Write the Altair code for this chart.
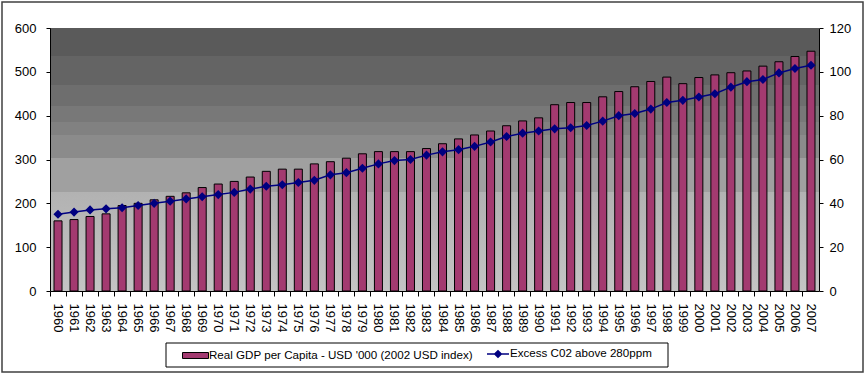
import altair as alt
import pandas as pd

years = [str(y) for y in range(1960, 2008)]
gdp = [160, 163, 170, 176, 195, 200, 208, 216, 224, 236, 244, 250, 260, 273, 278, 278,
       290, 295, 303, 313, 318, 318, 318, 325, 336, 347, 356, 365, 377, 388, 395, 425,
       430, 430, 443, 455, 466, 478, 488, 473, 487, 493, 498, 502, 513, 523, 535, 547]
co2 = [35, 36, 37, 37.5, 38, 39, 40, 41, 42, 43, 44, 45, 46.5, 47.8, 48.5, 49.5,
       50.5, 53, 54, 56, 58, 59.5, 60, 62, 63.5, 64.5, 66, 68, 70.5, 72, 73, 74,
       74.5, 75.5, 77.5, 80, 81, 83, 86, 87, 88.5, 90, 93, 95.5, 96.5, 99.5, 101.5, 103]

GDP_LABEL = "Real GDP per Capita - USD '000 (2002 USD index)"
CO2_LABEL = "Excess C02 above 280ppm"

df = pd.DataFrame({"year": years, "gdp": gdp, "co2": co2,
                   "s1": GDP_LABEL, "s2": CO2_LABEL})
one = pd.DataFrame({"a": [0]})

W, H = 769, 263
FONT = "Liberation Sans"

x_enc = alt.X("year:N", sort=None, title=None,
              scale=alt.Scale(paddingInner=0.5, paddingOuter=0.25),
              axis=alt.Axis(labelAngle=90, labelFontSize=13, labelFont=FONT,
                            labelColor="black", tickColor="black", domainColor="black",
                            tickSize=5, labelPadding=7, bandPosition=-0.5,
                            zindex=1, labelOverlap=False))

bands = [("#5a5a5a", 0.0), ("#5a5a5a", 0.106), ("#646464", 0.106), ("#646464", 0.217),
         ("#6e6e6e", 0.217), ("#6e6e6e", 0.297), ("#787878", 0.297), ("#787878", 0.357),
         ("#818181", 0.357), ("#818181", 0.407), ("#8b8b8b", 0.407), ("#8b8b8b", 0.494),
         ("#a0a0a0", 0.494), ("#a0a0a0", 0.624), ("#b2b2b2", 0.624), ("#c4c4c4", 1.0)]
grad = alt.LinearGradient(gradient="linear", x1=0, y1=0, x2=0, y2=1,
                          stops=[alt.GradientStop(color=c, offset=o) for c, o in bands])

frame = alt.Chart(one).mark_rect(fill="white", stroke="#404040", strokeWidth=1.5).encode(
    x=alt.value(-48), x2=alt.value(813), y=alt.value(-26), y2=alt.value(344))

bg = alt.Chart(one).mark_rect(color=grad).encode(
    x=alt.value(0), x2=alt.value(W), y=alt.value(0), y2=alt.value(H))

legbox = alt.Chart(one).mark_rect(fill="white", stroke="black", strokeWidth=1).encode(
    x=alt.value(116), x2=alt.value(618), y=alt.value(315), y2=alt.value(339))

bars = alt.Chart(df).mark_bar(stroke="black", strokeWidth=1).encode(
    x=x_enc,
    y=alt.Y("gdp:Q", title=None,
            scale=alt.Scale(domain=[0, 600]),
            axis=alt.Axis(orient="left", values=[0, 100, 200, 300, 400, 500, 600],
                          grid=False, labelFontSize=13, labelFont=FONT, labelColor="black",
                          tickColor="black", domainColor="black", tickSize=4,
                          labelPadding=10, zindex=1)),
    fill=alt.Fill("s1:N", title=None,
                  scale=alt.Scale(domain=[GDP_LABEL], range=["#a33a70"]),
                  legend=alt.Legend(orient="none", legendX=132, legendY=314,
                                    symbolType="M-1,-0.23H1V0.23H-1Z", symbolSize=676,
                                    symbolStrokeColor="black", symbolStrokeWidth=1,
                                    labelFontSize=11.6, labelFont=FONT, labelColor="black",
                                    labelOffset=0, labelLimit=0, padding=0)),
)

line = alt.Chart(df).mark_line(
    strokeWidth=1.5,
    point=alt.OverlayMarkDef(shape="diamond", filled=True, size=40, color="#000080")).encode(
    x=x_enc,
    y=alt.Y("co2:Q", title=None,
            scale=alt.Scale(domain=[0, 120]),
            axis=alt.Axis(orient="right", values=[0, 20, 40, 60, 80, 100, 120],
                          grid=False, labelFontSize=13, labelFont=FONT, labelColor="black",
                          tickColor="black", domainColor="black", tickSize=4,
                          labelPadding=6, zindex=1)),
    stroke=alt.Stroke("s2:N", title=None,
                      scale=alt.Scale(domain=[CO2_LABEL], range=["#000080"]),
                      legend=alt.Legend(orient="none", legendX=436, legendY=314,
                                        symbolType="M-1,0H1M0,-0.3L0.3,0L0,0.3L-0.3,0Z",
                                        symbolSize=484, symbolStrokeWidth=1.5,
                                        symbolFillColor="#000080",
                                        labelFontSize=11.6, labelFont=FONT, labelColor="black",
                                        labelOffset=0, labelLimit=0, padding=0)),
)

chart = alt.layer(frame, bg, legbox, bars, line).resolve_scale(
    y="independent", fill="independent", stroke="independent"
).properties(width=W, height=H, padding={"left": 1, "top": 1, "right": 0, "bottom": 0},
             background="white").configure_view(stroke=None)

chart.save("out.html", embed_options={"renderer": "svg", "actions": False})
